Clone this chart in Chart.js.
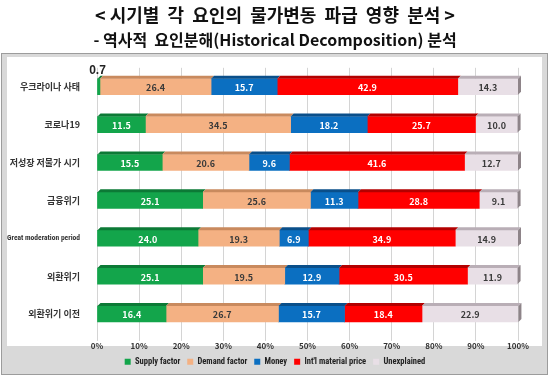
<!DOCTYPE html>
<html>
<head>
<meta charset="utf-8">
<script src="https://cdn.jsdelivr.net/npm/chart.js@4"></script>
<style>
html,body{margin:0;padding:0;background:#fff;}
#wrap{width:550px;height:377px;position:relative;}
</style>
</head>
<body>
<div id="wrap"><canvas id="hd-chart" width="550" height="377"></canvas></div>
<script>
/* 시기별 요인분해 — stacked 100% bars */
const periods=['우크라이나 사태','코로나19','저성장 저물가 시기','금융위기','Great moderation period','외환위기','외환위기 이전'];
const supplyFactor=[0.7,11.5,15.5,25.1,24.0,25.1,16.4];
const demandFactor=[26.4,34.5,20.6,25.6,19.3,19.5,26.7];
const money=[15.7,18.2,9.6,11.3,6.9,12.9,15.7];
const intlPrice=[42.9,25.7,41.6,28.8,34.9,30.5,18.4];
const unexplained=[14.3,10.0,12.7,9.1,14.9,11.9,22.9];
const xTicks=[0,10,20,30,40,50,60,70,80,90,100];

const KR='"Noto Sans CJK KR","Noto Sans",sans-serif';
const NARROW='"Liberation Sans Narrow","Roboto Condensed","Liberation Sans",Arial,sans-serif';
const cols=['#13a54b','#f4b183','#0b6fc1','#ff0000','#e8dfe6'];
const tops=['#0c7a36','#c98a5e','#0a4f8a','#b30000','#b9aeb6'];
const txtCols=['#fff','#3a3a3a','#fff','#fff','#3a3a3a'];

const panelBg={id:'panelBg',beforeDraw(c){const x=c.ctx;x.save();
  x.fillStyle='#fff';x.fillRect(0,0,c.width,c.height);
  x.fillStyle='#d9d9d9';x.fillRect(1,53,547,322);
  x.strokeStyle='#9c9c9c';x.lineWidth=1;x.strokeRect(1.5,53.5,546,321);
  x.fillStyle='#fff';x.fillRect(7,57,535,289);
  x.restore();}};

const bars3d={id:'bars3d',afterDatasetsDraw(c){const x=c.ctx;const d=3;x.save();
  c.data.datasets.forEach((ds,i)=>{const m=c.getDatasetMeta(i);m.data.forEach(el=>{
    const t=el.y-el.height/2,b=el.y+el.height/2,l=Math.min(el.base,el.x),r=Math.max(el.base,el.x);
    x.fillStyle=tops[i];x.beginPath();x.moveTo(l,t);x.lineTo(r,t);x.lineTo(r+d,t-d);x.lineTo(l+d,t-d);x.closePath();x.fill();
    if(i===c.data.datasets.length-1){x.fillStyle='#8e8489';x.beginPath();x.moveTo(r,t);x.lineTo(r+d,t-d);x.lineTo(r+d,b-d);x.lineTo(r,b);x.closePath();x.fill();}
  });});
  c.data.datasets.forEach((ds,i)=>{const m=c.getDatasetMeta(i);m.data.forEach((el,j)=>{
    const v=ds.data[j];const l=Math.min(el.base,el.x),r=Math.max(el.base,el.x);
    x.textAlign='center';x.textBaseline='middle';
    if(r-l<12){x.font='bold 12px "Liberation Sans",Arial,sans-serif';x.fillStyle='#222';x.fillText(v.toFixed(1),l,el.y-el.height/2-8);return;}
    x.font='bold 9px '+KR;x.fillStyle=txtCols[i];x.fillText(v.toFixed(1),(l+r)/2,el.y+1);
  });});
  x.restore();}};

const mk=(label,data,i)=>({label:label,data:data,backgroundColor:cols[i],borderWidth:0,barThickness:16});

new Chart(document.getElementById('hd-chart'),{type:'bar',
  data:{labels:periods,datasets:[
    mk('Supply factor',supplyFactor,0),
    mk('Demand factor',demandFactor,1),
    mk('Money',money,2),
    mk("Int'l material price",intlPrice,3),
    mk('Unexplained',unexplained,4)
  ]},
  options:{indexAxis:'y',responsive:false,animation:false,
    layout:{padding:{left:0,right:0,top:0,bottom:1}},
    scales:{
      x:{stacked:true,min:0,max:100,afterBuildTicks(s){s.ticks=xTicks.map(v=>({value:v}));},
        ticks:{callback:v=>v+'%',color:'#333',font:{size:8,weight:'bold',family:KR},padding:0},
        grid:{color:'#d4d4d4',drawTicks:true,tickLength:8},border:{display:false}},
      y:{stacked:true,afterFit(s){s.width=97;},
        ticks:{color:'#333',padding:9,callback(v,i){return periods[i];},
          font(ctx){const lab=ctx.tick?ctx.tick.label:'';return lab==='Great moderation period'?{size:7.5,weight:'bold',family:NARROW}:{size:9,weight:'bold',family:KR};}},
        grid:{display:false},border:{display:false}},
      yPad:{type:'category',labels:periods,position:'right',afterFit(s){s.width=32;},
        ticks:{display:false},grid:{display:false},border:{display:false}}
    },
    plugins:{
      title:{display:true,text:'< 시기별  각  요인의  물가변동  파급  영향  분석 >',
        color:'#111',font:{size:18,weight:'bold',family:KR},lineHeight:1.2,padding:{top:4,bottom:5}},
      subtitle:{display:true,text:'- 역사적  요인분해(Historical Decomposition) 분석',
        color:'#111',font:{size:16,weight:'bold',family:KR},lineHeight:1.2,padding:{top:0,bottom:18}},
      legend:{position:'bottom',labels:{color:'#222',boxWidth:6,boxHeight:6,padding:7,font:{size:8.5,weight:'bold',family:NARROW}}},
      tooltip:{enabled:false}
    }},
  plugins:[panelBg,bars3d]});
</script>
</body>
</html>
